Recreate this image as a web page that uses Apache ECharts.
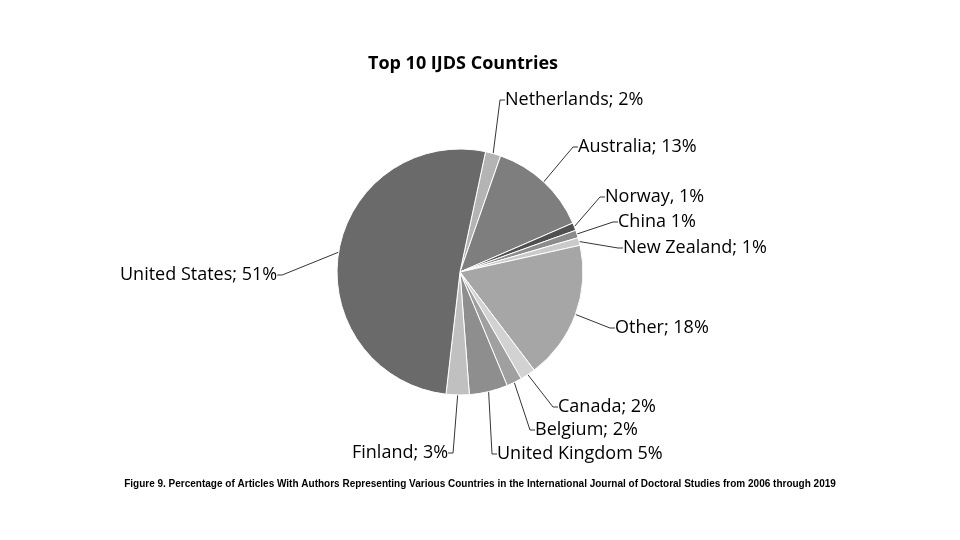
<!DOCTYPE html><html><head><meta charset="utf-8">
<script src="https://cdn.jsdelivr.net/npm/echarts@6/dist/echarts.min.js"></script>
<style>html,body{margin:0;background:#fff}#c{width:960px;height:540px}</style></head><body><div id="c"></div>
<script>
const categories=['Netherlands','Australia','Norway','China','New Zealand','Other','Canada','Belgium','United Kingdom','Finland','United States'];
const values=[2,13,1,1,1,18,2,2,5,3,51];
const labelTexts=['Netherlands; 2%','Australia; 13%','Norway, 1%','China 1%','New Zealand; 1%','Other; 18%','Canada; 2%','Belgium; 2%','United Kingdom 5%','Finland; 3%','United States; 51%'];
const colors=['#b4b4b4','#7e7e7e','#505050','#8c8c8c','#cacaca','#a6a6a6','#d2d2d2','#a0a0a0','#8e8e8e','#c0c0c0','#6a6a6a'];
const labelPos=[[505,100],[578,147],[605,197],[618,222],[623,248],[615,328],[558,407],[535,430],[497,454],[352,453],[120,275]];
const chart=echarts.init(document.getElementById('c'));
chart.setOption({
 title:{text:'Top 10 IJDS Countries',left:458,top:50,textAlign:'center',textStyle:{fontFamily:'Open Sans',fontWeight:'bold',fontSize:18,color:'#000'}},
 graphic:[{type:'text',left:'center',top:479,style:{text:'Figure 9. Percentage of Articles With Authors Representing Various Countries in the International Journal of Doctoral Studies from 2006 through 2019',font:'bold 10px Liberation Sans',fill:'#000'}}],
 series:[{type:'pie',center:[460,272],radius:[0,123],startAngle:78,clockwise:true,
  data:categories.map((n,i)=>({name:n,value:values[i],itemStyle:{color:colors[i]},label:{formatter:labelTexts[i]}})),
  itemStyle:{borderColor:'#fff',borderWidth:1},
  label:{fontFamily:'Open Sans',fontSize:18,color:'#000'},
  labelLine:{show:true,lineStyle:{color:'#000',width:0.8},length:10,length2:5},
  labelLayout:p=>({x:labelPos[p.dataIndex][0],y:labelPos[p.dataIndex][1],align:'left',verticalAlign:'middle'}),
  emphasis:{disabled:true},animation:false}]
});
</script></body></html>
